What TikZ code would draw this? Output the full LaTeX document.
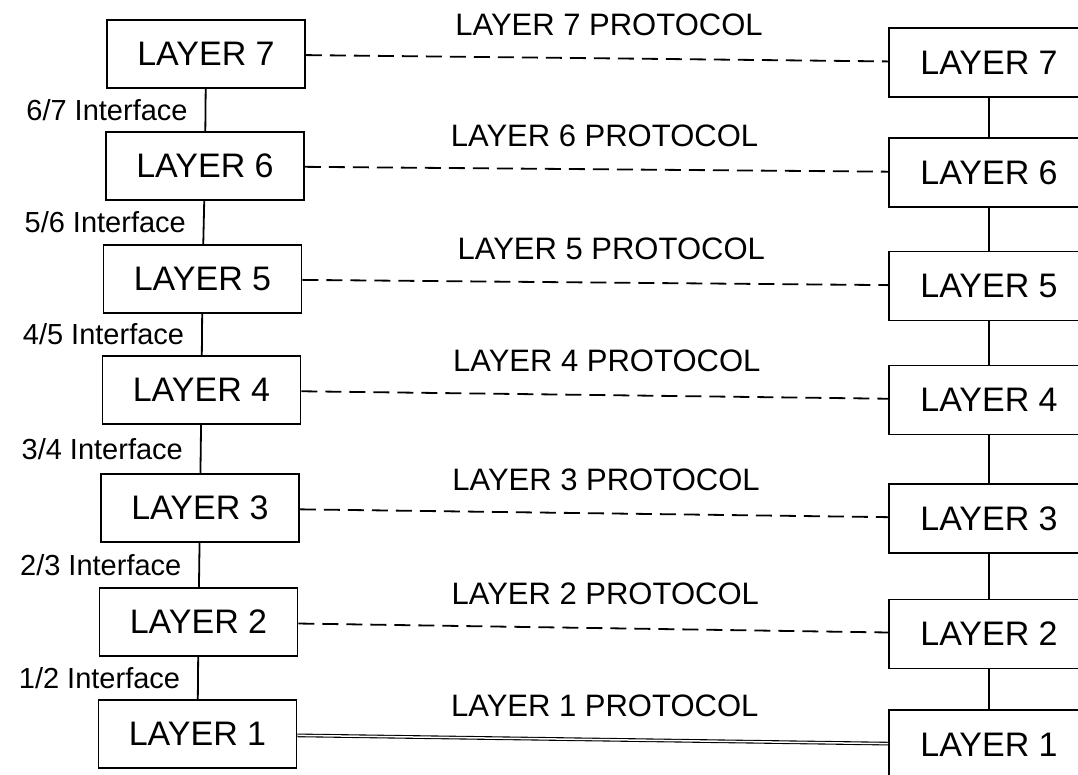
\documentclass[tikz,border=0pt]{standalone}
\usepackage{fontspec}
\setmainfont{Liberation Sans}
\usepackage{tikz}
\usetikzlibrary{positioning}

\begin{document}
\begin{tikzpicture}[x=1pt,y=-1pt,line width=1.8pt,
   layerbox/.style={draw,minimum width=198pt,minimum height=68pt,inner sep=0pt,
                    font=\fontsize{34}{38}\selectfont},
   rbox/.style={layerbox,minimum width=200pt,minimum height=69pt},
   proto/.style={dash pattern=on 16pt off 8pt},
   protolabel/.style={font=\fontsize{31}{35}\selectfont,inner sep=0pt},
   iflabel/.style={font=\fontsize{29}{33}\selectfont,inner sep=0pt}]
  \clip (0,0) rectangle (1078,774);
  \node[layerbox] (l7) at (206,54) {LAYER 7};
  \node[layerbox] (l6) at (205,166) {LAYER 6};
  \node[layerbox] (l5) at (202.5,279) {LAYER 5};
  \node[layerbox] (l4) at (201.5,390) {LAYER 4};
  \node[layerbox] (l3) at (200,508) {LAYER 3};
  \node[layerbox] (l2) at (198.5,622) {LAYER 2};
  \node[layerbox] (l1) at (197.5,734) {LAYER 1};
  \node[rbox] (r7) at (989,62.5) {LAYER 7};
  \node[rbox] (r6) at (989,172.5) {LAYER 6};
  \node[rbox] (r5) at (989,286) {LAYER 5};
  \node[rbox] (r4) at (989,400) {LAYER 4};
  \node[rbox] (r3) at (989,518.5) {LAYER 3};
  \node[rbox] (r2) at (989,634) {LAYER 2};
  \node[rbox,minimum height=70pt] (r1) at (989,745) {LAYER 1};
  \draw (l7) -- node[iflabel,midway,left=17pt] {6/7 Interface} (l6);
  \draw (l6) -- node[iflabel,midway,left=17pt] {5/6 Interface} (l5);
  \draw (l5) -- node[iflabel,midway,left=17pt] {4/5 Interface} (l4);
  \draw (l4) -- node[iflabel,midway,left=17pt] {3/4 Interface} (l3);
  \draw (l3) -- node[iflabel,midway,left=17pt] {2/3 Interface} (l2);
  \draw (l2) -- node[iflabel,midway,left=17pt] {1/2 Interface} (l1);
  \draw (r7) -- (r6);
  \draw (r6) -- (r5);
  \draw (r5) -- (r4);
  \draw (r4) -- (r3);
  \draw (r3) -- (r2);
  \draw (r2) -- (r1);
  \draw[proto] (l7) -- node[protolabel,midway,above=22pt,xshift=12pt] {LAYER 7 PROTOCOL} (r7);
  \draw[proto] (l6) -- node[protolabel,midway,above=22pt,xshift=8pt] {LAYER 6 PROTOCOL} (r6);
  \draw[proto] (l5) -- node[protolabel,midway,above=22pt,xshift=16pt] {LAYER 5 PROTOCOL} (r5);
  \draw[proto] (l4) -- node[protolabel,midway,above=22pt,xshift=12pt] {LAYER 4 PROTOCOL} (r4);
  \draw[proto] (l3) -- node[protolabel,midway,above=22pt,xshift=12pt] {LAYER 3 PROTOCOL} (r3);
  \draw[proto] (l2) -- node[protolabel,midway,above=22pt,xshift=12pt] {LAYER 2 PROTOCOL} (r2);
  \draw[line width=1.1pt,double,double distance=1.5pt] (l1) -- node[protolabel,midway,above=22pt,xshift=12pt] {LAYER 1 PROTOCOL} (r1);
\end{tikzpicture}
\end{document}
